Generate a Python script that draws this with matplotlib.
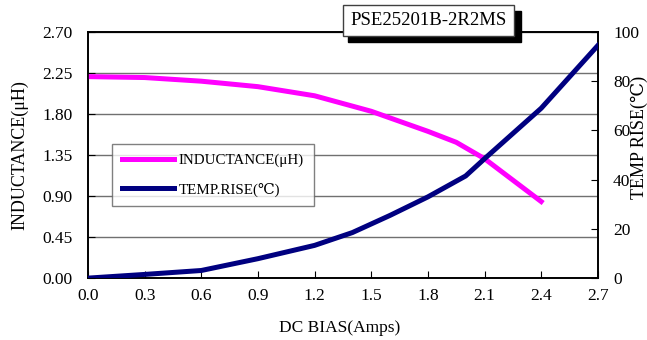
import matplotlib
matplotlib.use("Agg")
import matplotlib.pyplot as plt
from matplotlib.patches import Rectangle

plt.rcParams["font.family"] = ["Liberation Serif", "DejaVu Serif", "DejaVu Sans"]

# inductance vs DC bias
bias_l = [0.0, 0.3, 0.6, 0.9, 1.2, 1.5, 1.8, 1.95, 2.1, 2.4]
inductance = [2.21, 2.20, 2.16, 2.10, 2.00, 1.83, 1.61, 1.49, 1.31, 0.84]

# temperature rise vs DC bias
bias_t = [0.0, 0.3, 0.6, 0.9, 1.2, 1.4, 1.6, 1.8, 2.0, 2.1, 2.4, 2.7]
temp_rise = [0.0, 1.5, 3.1, 7.9, 13.3, 18.5, 25.5, 33.0, 41.5, 48.5, 69.0, 94.5]

x_ticks = [0.0, 0.3, 0.6, 0.9, 1.2, 1.5, 1.8, 2.1, 2.4, 2.7]
l_ticks = [0.0, 0.45, 0.90, 1.35, 1.80, 2.25, 2.70]
t_ticks = [0, 20, 40, 60, 80, 100]

fig = plt.figure(figsize=(6.47, 3.40), dpi=100)
ax = fig.add_axes([0.136, 0.182, 0.788, 0.724])
ax2 = ax.twinx()

ax.plot(bias_l, inductance, color="#FF00FF", linewidth=3.6, label="INDUCTANCE(μH)", zorder=3)
ax2.plot(bias_t, temp_rise, color="#000080", linewidth=3.6, label="TEMP.RISE(℃)", zorder=3)

ax.set_xlim(0, 2.7)
ax.set_ylim(0, 2.7)
ax2.set_ylim(0, 100)
ax.set_xticks(x_ticks)
ax.set_xticklabels([f"{v:.1f}" for v in x_ticks])
ax.set_yticks(l_ticks)
ax.set_yticklabels([f"{v:.2f}" for v in l_ticks])
ax2.set_yticks(t_ticks)

ax.yaxis.grid(True, color="#707070", linewidth=1.0)
ax.set_axisbelow(True)
ax.tick_params(axis="x", direction="in", length=5, labelsize=12.5, pad=7)
ax.tick_params(axis="y", direction="in", length=5, labelsize=12.5, pad=11)
ax2.tick_params(axis="y", direction="in", length=5, labelsize=12.5, pad=11)
for a in (ax, ax2):
    for sp in a.spines.values():
        sp.set_linewidth(1.2)

# axis titles placed in figure pixels to match the original layout
fig.text(340 / 647, 1 - 328 / 340, "DC BIAS(Amps)", fontsize=12.5, ha="center", va="center")
fig.text(19.5 / 647, 1 - 155 / 340, "INDUCTANCE(μH)", fontsize=13, rotation=90,
         ha="center", va="center")
fig.text(639 / 647, 1 - 137 / 340, "TEMP RISE(℃)", fontsize=13, rotation=90,
         ha="center", va="center")

h1, l1 = ax.get_legend_handles_labels()
h2, l2 = ax2.get_legend_handles_labels()
leg = ax2.legend(h1 + h2, l1 + l2, loc="upper left", bbox_to_anchor=(0.047, 0.545),
                 borderaxespad=0, fontsize=10.8, frameon=True, fancybox=False,
                 edgecolor="#606060", handlelength=3.5, handletextpad=0.3,
                 borderpad=0.65, labelspacing=1.0)
leg.get_frame().set_linewidth(1.0)

# part number box with drop shadow
fig.patches.append(Rectangle((348 / 647, 1 - 42 / 340), 173 / 647, 31 / 340,
                             transform=fig.transFigure, facecolor="black",
                             edgecolor="black", zorder=5))
fig.patches.append(Rectangle((343 / 647, 1 - 36 / 340), 171 / 647, 31 / 340,
                             transform=fig.transFigure, facecolor="white",
                             edgecolor="#404040", linewidth=1.0, zorder=6))
fig.text(428.5 / 647, 1 - 20.5 / 340, "PSE25201B-2R2MS", fontsize=13.5,
         ha="center", va="center", zorder=7)

fig.savefig("out.png", dpi=100)
